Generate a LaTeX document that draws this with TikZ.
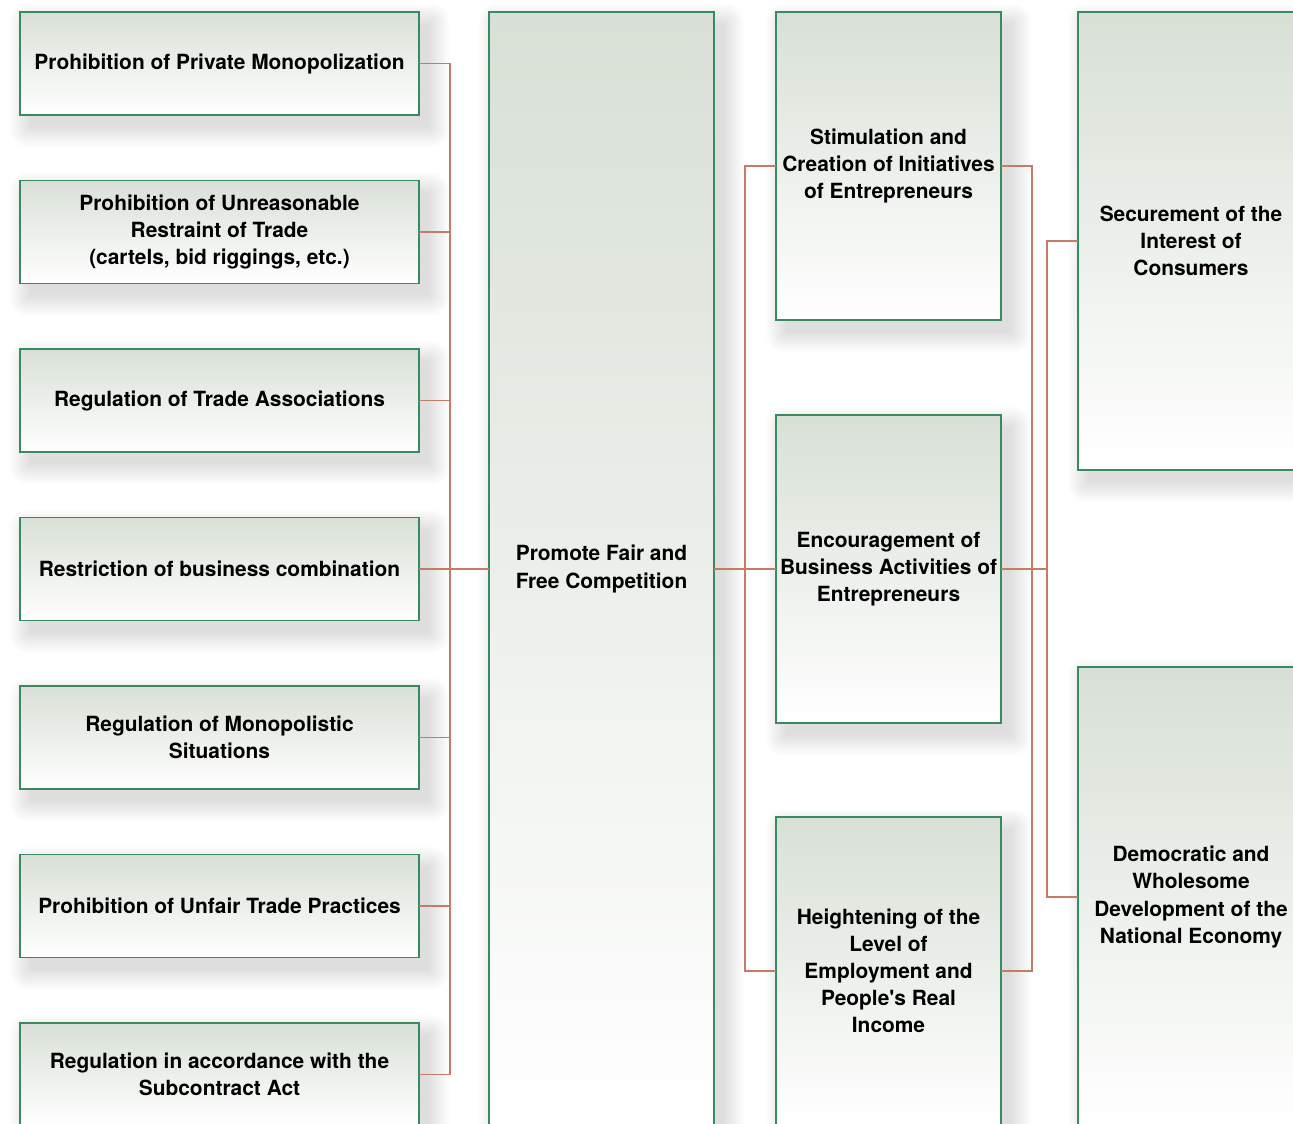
\documentclass[tikz,border=0pt]{standalone}
\usepackage{fontspec}
\setmainfont{TeX Gyre Heros}
\usetikzlibrary{backgrounds}

\definecolor{boxgreen}{RGB}{56,138,96}
\definecolor{boxtop}{RGB}{216,224,214}
\definecolor{wire}{RGB}{198,124,100}

\tikzset{
    goal/.style={draw=boxgreen, line width=1.1pt, top color=boxtop, bottom color=white,
        inner sep=0, outer sep=0, align=center,
        font=\fontsize{11.9}{15.4}\selectfont\bfseries},
    link/.style={draw=wire, line width=1pt},
    haze/.style={fill=black, opacity=0.012}
}

\begin{document}
\begin{tikzpicture}[x=0.02cm,y=-0.02cm]
    \useasboundingbox (0,0) rectangle (1293,1123);
    \clip (0,0) rectangle (1293,1123);

    % measures
    \foreach \y/\txt [count=\i] in {63.5/{Prohibition of Private Monopolization},
            232/{Prohibition of Unreasonable\\Restraint of Trade\\(cartels, bid riggings, etc.)},
            400.5/{Regulation of Trade Associations},
            569/{Restriction of business combination},
            737.5/{Regulation of Monopolistic\\Situations},
            906/{Prohibition of Unfair Trade Practices},
            1074.5/{Regulation in accordance with the\\Subcontract Act}} {
        \node[goal, minimum width=7.98cm, minimum height=2.06cm] (m\i) at (219.5,\y) {\txt};
    }

    % aim
    \node[goal, minimum width=4.5cm, minimum height=22.28cm] (aim) at (601.5,569)
        {Promote Fair and\\Free Competition};

    % effects
    \node[goal, minimum width=4.5cm, minimum height=6.16cm] (e1) at (888.5,166)
        {Stimulation and\\Creation of Initiatives\\of Entrepreneurs};
    \node[goal, minimum width=4.5cm, minimum height=6.16cm] (e2) at (888.5,569)
        {Encouragement of\\Business Activities of\\Entrepreneurs};
    \node[goal, minimum width=4.5cm, minimum height=6.16cm] (e3) at (888.5,971)
        {Heightening of the\\Level of\\Employment and\\People\textquotesingle s Real\\Income};

    % ends
    \node[goal, minimum width=4.52cm, minimum height=9.16cm] (g1) at (1191,241)
        {Securement of the\\Interest of\\Consumers};
    \node[goal, minimum width=4.52cm, minimum height=9.2cm] (g2) at (1191,897)
        {Democratic and\\Wholesome\\Development of the\\National Economy};

    % wires
    \coordinate (busL) at (450,569);
    \coordinate (busM) at (745,569);
    \coordinate (busR) at (1032,569);
    \coordinate (busE) at (1047,569);

    \foreach \i in {1,...,7} {\draw[link] (m\i.east) -| (busL);}
    \draw[link] (busL) -- (aim.west);
    \draw[link] (aim.east) -- (e2.west);
    \draw[link] (e1.west) -| (busM);
    \draw[link] (e3.west) -| (busM);
    \draw[link] (e1.east) -| (busR);
    \draw[link] (e3.east) -| (busR);
    \draw[link] (e2.east) -- (busE);
    \draw[link] (g1.west) -| (busE);
    \draw[link] (g2.west) -| (busE);

    % soft shadows
    \begin{pgfonlayer}{background}
        \fill[white] (0,0) rectangle (1293,1123);
        \foreach \n in {m1,m2,m3,m4,m5,m6,m7,aim,e1,e2,e3,g1,g2} {
            \foreach \k in {0,...,10} {
                \fill[haze, rounded corners=\k pt]
                    ([shift={(10-2*\k,12-2*\k)}]\n.north west) rectangle
                    ([shift={(10+2*\k,12+2*\k)}]\n.south east);
            }
        }
    \end{pgfonlayer}
\end{tikzpicture}
\end{document}
